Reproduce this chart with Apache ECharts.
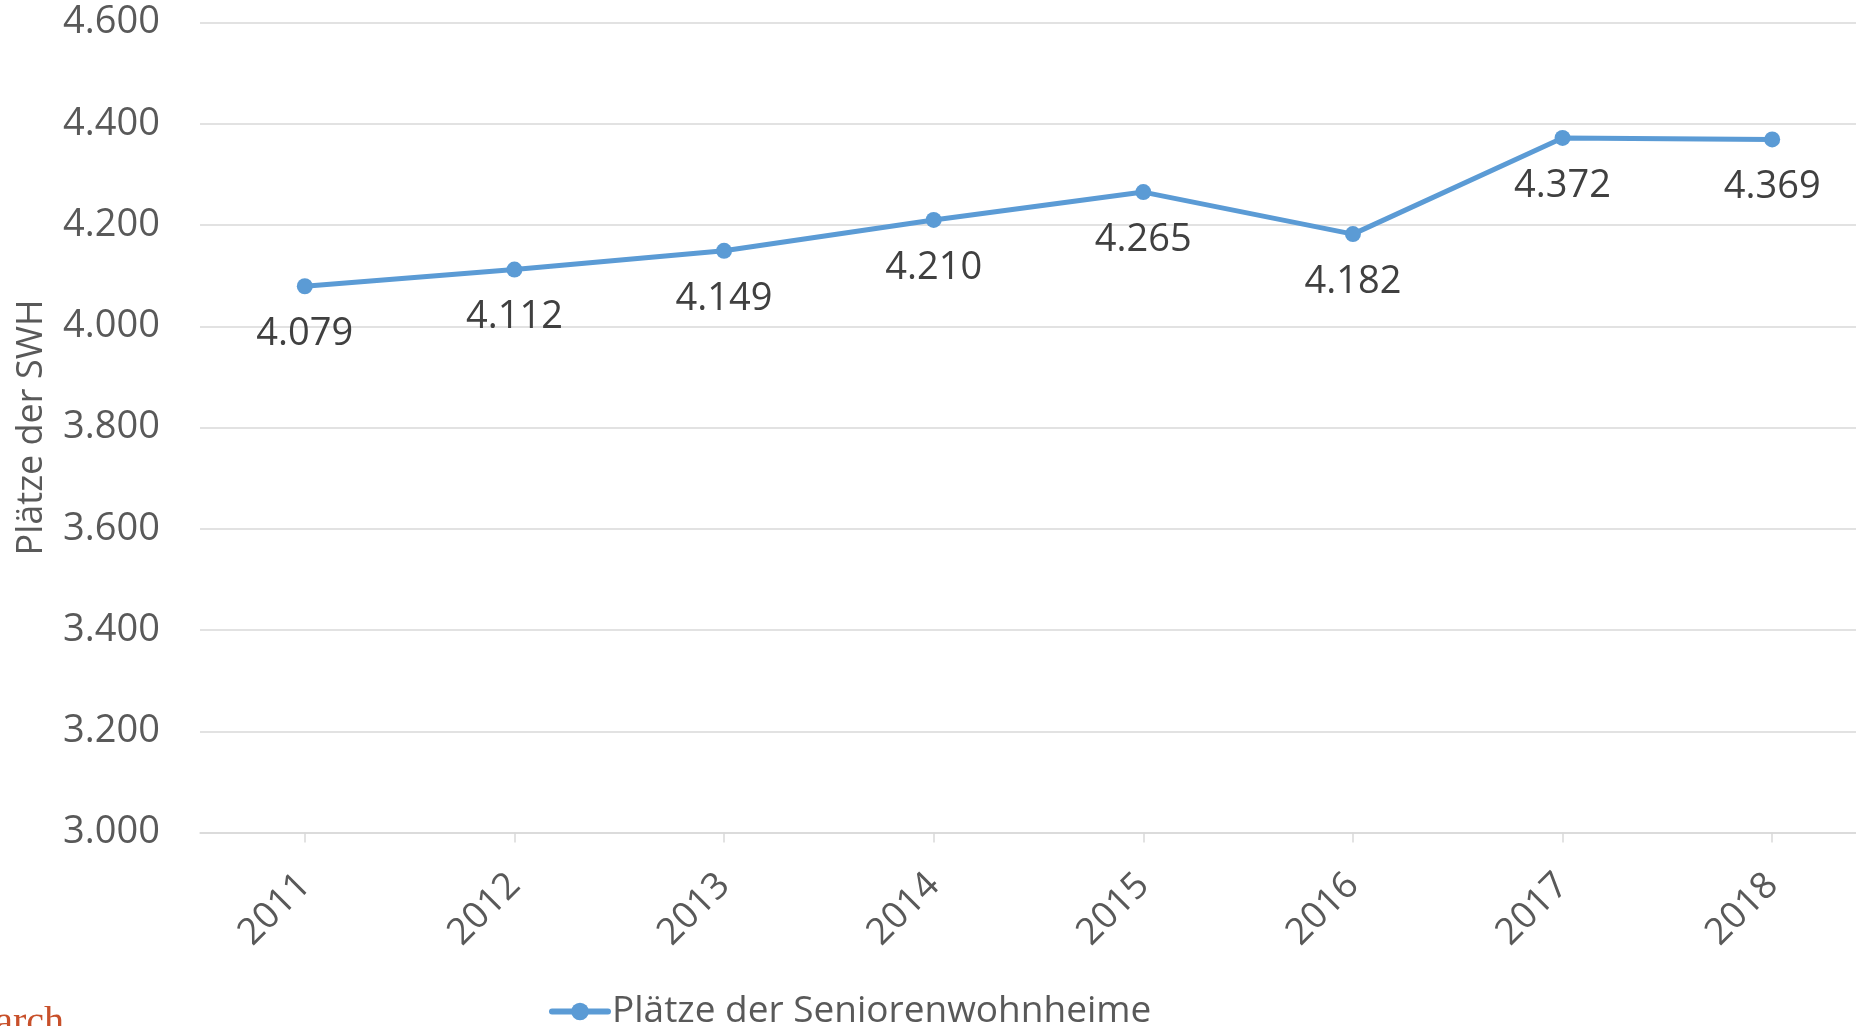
<!DOCTYPE html>
<html>
<head>
<meta charset="utf-8">
<script src="https://cdn.jsdelivr.net/npm/echarts@6/dist/echarts.min.js"></script>
<style>
html,body{margin:0;padding:0;background:#fff;}
#chart{width:1856px;height:1026px;}
</style>
</head>
<body>
<div id="chart"></div>
<script>
const years = ['2011','2012','2013','2014','2015','2016','2017','2018'];
const places = [4079, 4112, 4149, 4210, 4265, 4182, 4372, 4369];
const seriesName = 'Plätze der Seniorenwohnheime';
const yAxisName = 'Plätze der SWH';
const yMin = 3000, yMax = 4600, yStep = 200;

function fmt(v){
  return String(v).replace(/\B(?=(\d{3})+(?!\d))/g, '.');
}

const FONT = '"Open Sans", "Noto Sans", sans-serif';
const chart = echarts.init(document.getElementById('chart'), null, {renderer:'canvas'});
chart.setOption({
  animation:false,
  backgroundColor:'#ffffff',
  grid:{left:200, top:22.5, width:1677, height:810, containLabel:false, outerBoundsMode:'none'},
  legend:{
    data:[seriesName],
    left:544, top:988,
    itemWidth:56, itemHeight:22, itemGap:10,
    lineStyle:{width:6, cap:'round'},
    textStyle:{color:'#595959', fontSize:37, fontFamily:FONT, padding:[0,0,0,-1]}
  },
  xAxis:{
    type:'category',
    data:years,
    boundaryGap:true,
    axisLine:{show:true, lineStyle:{color:'#d9d9d9', width:1.5}},
    axisTick:{show:true, alignWithLabel:true, length:10, lineStyle:{color:'#d9d9d9', width:1.5}},
    axisLabel:{rotate:45, margin:47, color:'#595959', fontSize:37, fontFamily:FONT},
    splitLine:{show:false}
  },
  yAxis:{
    type:'value',
    min:yMin, max:yMax, interval:yStep,
    name:yAxisName,
    nameLocation:'middle',
    nameGap:150,
    nameRotate:90,
    nameTextStyle:{color:'#595959', fontSize:36, fontFamily:FONT},
    axisLine:{show:false},
    axisTick:{show:false},
    axisLabel:{margin:40, color:'#595959', fontSize:38, fontFamily:FONT, formatter:fmt},
    splitLine:{lineStyle:{color:'#d9d9d9', width:1.5}}
  },
  series:[{
    name:seriesName,
    type:'line',
    data:places,
    symbol:'circle',
    symbolSize:16,
    lineStyle:{color:'#5B9BD5', width:5},
    itemStyle:{color:'#5B9BD5'},
    label:{show:true, position:'bottom', distance:21, color:'#404040', fontSize:38, fontFamily:FONT, formatter:p=>fmt(p.value)}
  }],
  graphic:[{
    type:'text',
    right:1792, top:1003,
    style:{text:'Research', fill:'#c8502a', font:'40px "Liberation Serif", serif'}
  }]
});
</script>
</body>
</html>
